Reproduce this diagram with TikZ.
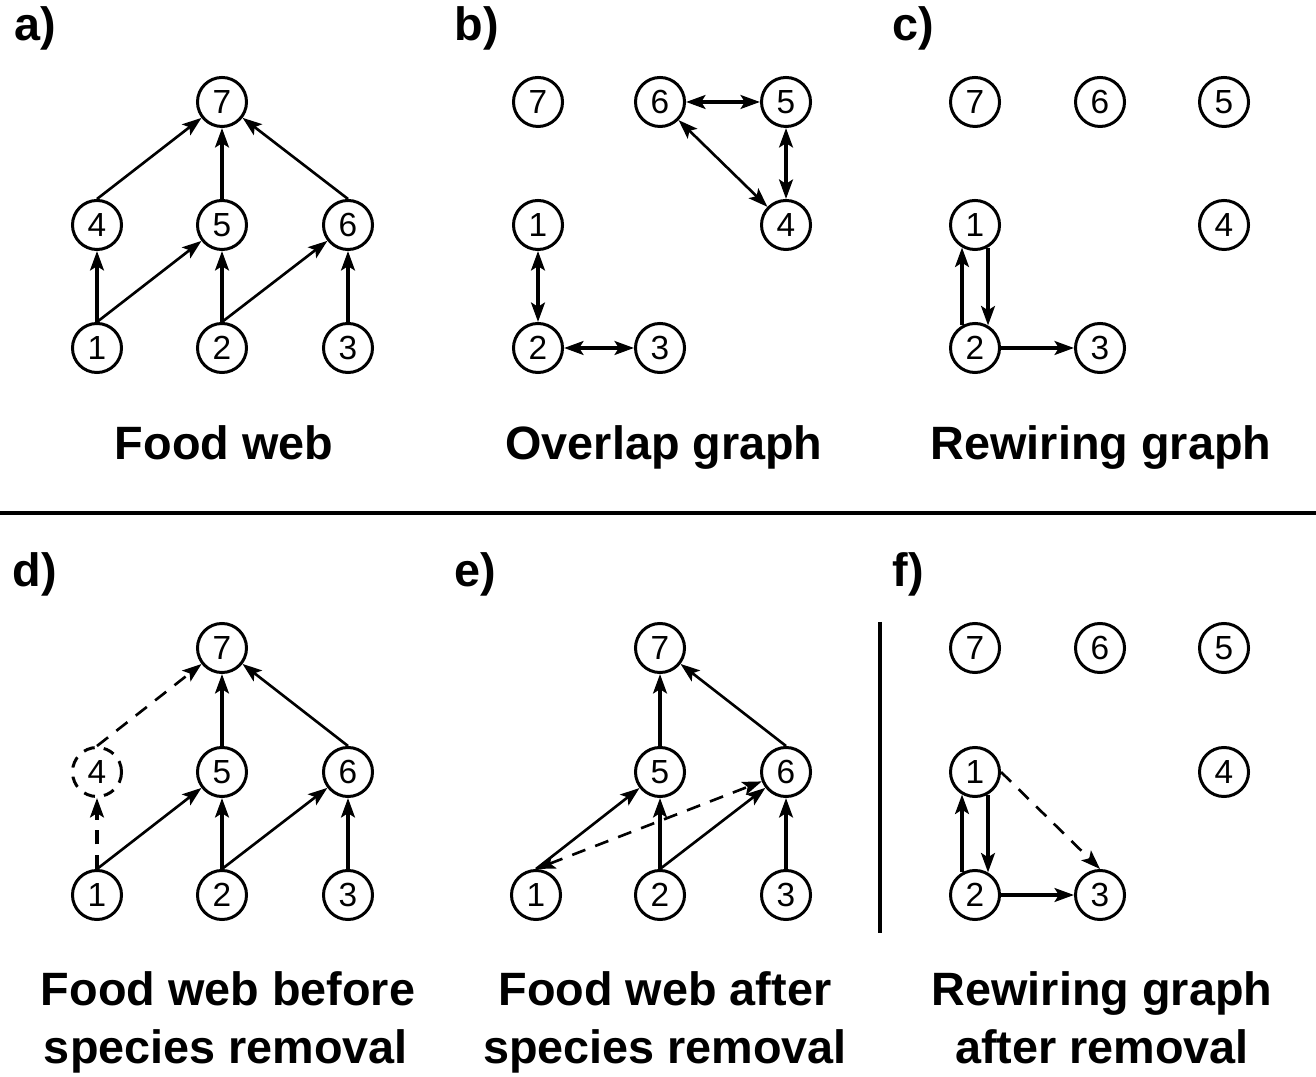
\documentclass[tikz,border=0pt]{standalone}
\usepackage{fontspec}
\setmainfont{Liberation Sans}
\usetikzlibrary{arrows.meta}

\tikzset{
	sp/.style={circle, draw, line width=0.85pt, minimum size=0.49cm, inner sep=0pt, font=\fontsize{9.5}{9.5}\selectfont},
	gone/.style={sp, dash pattern=on 3.2pt off 2.6pt},
	thn/.style={line width=0.75pt, ->},
	mid/.style={line width=1.05pt, ->},
	thk/.style={line width=1.4pt, ->},
	dsh/.style={dash pattern=on 4pt off 3pt},
	ttl/.style={anchor=base, font=\fontsize{13.3}{13.3}\selectfont\bfseries},
	lbl/.style={anchor=base west, inner sep=0pt, font=\fontsize{13.3}{13.3}\selectfont\bfseries}
}

\begin{document}
\begin{tikzpicture}[x=0.01cm, y=-0.01cm, >={Stealth[length=5.5pt, width=3.9pt, inset=1.2pt]}]
			\useasboundingbox (0,0) rectangle (1316,1077);

			\node[lbl] (la) at (14,41) {a)};
			\node[lbl] (lb) at (454,41) {b)};
			\node[lbl] (lc) at (892,41) {c)};
			\node[lbl] (ld) at (12,587) {d)};
			\node[lbl] (le) at (454,587) {e)};
			\node[lbl] (lf) at (892,587) {f)};

			\node[sp] (a7) at (222,102) {7};
			\node[sp] (a4) at (97,225) {4};
			\node[sp] (a5) at (222,225) {5};
			\node[sp] (a6) at (348,225) {6};
			\node[sp] (a1) at (97,348) {1};
			\node[sp] (a2) at (222,348) {2};
			\node[sp] (a3) at (348,348) {3};

			\draw[thn] (a4.north) -- (a7);
			\draw[thk] (a5) -- (a7);
			\draw[thn] (a6.north) -- (a7);
			\draw[thk] (a1) -- (a4);
			\draw[thn] (a1.north) -- (a5);
			\draw[thk] (a2) -- (a5);
			\draw[thn] (a2.north) -- (a6);
			\draw[thk] (a3) -- (a6);

			\node[sp] (b7) at (538,102) {7};
			\node[sp] (b6) at (660,102) {6};
			\node[sp] (b5) at (786,102) {5};
			\node[sp] (b1) at (538,225) {1};
			\node[sp] (b4) at (786,225) {4};
			\node[sp] (b2) at (538,348) {2};
			\node[sp] (b3) at (660,348) {3};

			\draw[mid, <->] (b6) -- (b5);
			\draw[thn, <->] (b6) -- (b4);
			\draw[thk, <->] (b5) -- (b4);
			\draw[thk, <->] (b1) -- (b2);
			\draw[thk, <->] (b2) -- (b3);

			\node[sp] (c7) at (975,102) {7};
			\node[sp] (c6) at (1100,102) {6};
			\node[sp] (c5) at (1224,102) {5};
			\node[sp] (c1) at (975,225) {1};
			\node[sp] (c4) at (1224,225) {4};
			\node[sp] (c2) at (975,348) {2};
			\node[sp] (c3) at (1100,348) {3};

			\draw[mid] (c2.120) -- (c1.240);
			\draw[mid] (c1.300) -- (c2.60);
			\draw[thk] (c2) -- (c3);

			\draw[line width=1.1pt] (0,513) -- (1316,513);

			\node[sp] (d7) at (222,648) {7};
			\node[gone] (d4) at (97,772) {4};
			\node[sp] (d5) at (222,772) {5};
			\node[sp] (d6) at (348,772) {6};
			\node[sp] (d1) at (97,895) {1};
			\node[sp] (d2) at (222,895) {2};
			\node[sp] (d3) at (348,895) {3};

			\draw[thn, dsh] (d4.north) -- (d7);
			\draw[thk] (d5) -- (d7);
			\draw[thn] (d6.north) -- (d7);
			\draw[thk, dsh] (d1) -- (d4);
			\draw[thn] (d1.north) -- (d5);
			\draw[thk] (d2) -- (d5);
			\draw[thn] (d2.north) -- (d6);
			\draw[thk] (d3) -- (d6);

			\node[sp] (e7) at (660,648) {7};
			\node[sp] (e5) at (660,772) {5};
			\node[sp] (e6) at (786,772) {6};
			\node[sp] (e1) at (536,895) {1};
			\node[sp] (e2) at (660,895) {2};
			\node[sp] (e3) at (786,895) {3};

			\draw[thk] (e5) -- (e7);
			\draw[thn] (e6.north) -- (e7);
			\draw[thn] (e1.north) -- (e5);
			\draw[thn, dsh, <->] (e1.north) -- (e6);
			\draw[thk] (e2) -- (e5);
			\draw[thn] (e2.north) -- (e6);
			\draw[thk] (e3) -- (e6);

			\draw[line width=1.4pt] (880,622) -- (880,933);

			\node[sp] (f7) at (975,648) {7};
			\node[sp] (f6) at (1100,648) {6};
			\node[sp] (f5) at (1224,648) {5};
			\node[sp] (f1) at (975,772) {1};
			\node[sp] (f4) at (1224,772) {4};
			\node[sp] (f2) at (975,895) {2};
			\node[sp] (f3) at (1100,895) {3};

			\draw[mid] (f2.120) -- (f1.240);
			\draw[mid] (f1.300) -- (f2.60);
			\draw[mid] (f2) -- (f3);
			\draw[thn, dsh] (f1.east) -- (f3.north);

			\node[ttl] (ta) at (224,460) {Food web};
			\node[ttl] (tb) at (664,460) {Overlap graph};
			\node[ttl] (tc) at (1101,460) {Rewiring graph};
			\node[ttl] (td) at (228,1005) {Food web before};
			\node[ttl] (td2) at (226,1063) {species removal};
			\node[ttl] (te) at (665,1005) {Food web after};
			\node[ttl] (te2) at (665,1063) {species removal};
			\node[ttl] (tf) at (1102,1005) {Rewiring graph};
			\node[ttl] (tf2) at (1102,1063) {after removal};

		\end{tikzpicture}
\end{document}
